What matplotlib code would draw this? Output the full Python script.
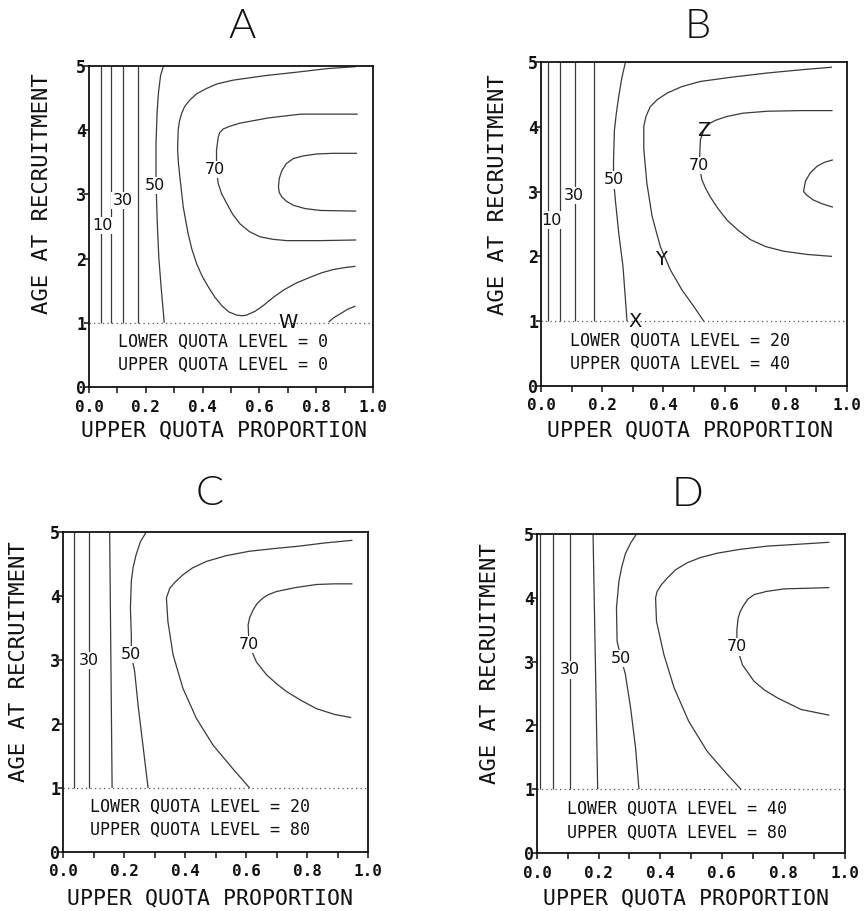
import matplotlib
matplotlib.use("Agg")
import matplotlib.pyplot as plt
from matplotlib.ticker import MultipleLocator, FixedLocator

# ---------------- data ----------------
panel_names = ["A", "B", "C", "D"]
lower_quota = [0, 20, 20, 40]
upper_quota = [0, 40, 80, 80]

x_major = [0.0, 0.2, 0.4, 0.6, 0.8, 1.0]
x_major_labels = ["0.0", "0.2", "0.4", "0.6", "0.8", "1.0"]
y_major = [0, 1, 2, 3, 4, 5]
y_major_labels = ["0", "1", "2", "3", "4", "5"]
min_recruit_age = 1.0

# Panel A isolines (upper quota proportion, age at recruitment)
a10_x = [0.042, 0.042]; a10_y = [1.0, 5.0]
a20_x = [0.077, 0.077]; a20_y = [1.0, 5.0]
a30_x = [0.120, 0.120]; a30_y = [1.0, 5.0]
a40_x = [0.173, 0.173]; a40_y = [1.0, 5.0]
a50_x = [0.262, 0.252, 0.245, 0.240, 0.236, 0.236, 0.240, 0.246, 0.255, 0.265]
a50_y = [5.00, 4.85, 4.60, 4.30, 3.80, 3.20, 2.60, 2.00, 1.50, 1.00]
a60_x = [0.940, 0.840, 0.744, 0.620, 0.508, 0.450, 0.414, 0.380, 0.355, 0.337, 0.326,
         0.318, 0.314, 0.312, 0.315, 0.320, 0.332, 0.349, 0.362, 0.379, 0.398, 0.420,
         0.443, 0.467, 0.492, 0.520, 0.538, 0.555, 0.585, 0.614, 0.650, 0.685, 0.730,
         0.779, 0.820, 0.861, 0.900, 0.938]
a60_y = [4.99, 4.96, 4.91, 4.85, 4.78, 4.72, 4.65, 4.57, 4.47, 4.37, 4.26,
         4.13, 4.00, 3.69, 3.48, 3.27, 2.80, 2.39, 2.15, 1.92, 1.73, 1.56,
         1.40, 1.27, 1.17, 1.12, 1.11, 1.12, 1.18, 1.27, 1.40, 1.51, 1.62,
         1.71, 1.78, 1.83, 1.86, 1.88]
a70_x = [0.946, 0.850, 0.744, 0.630, 0.532, 0.495, 0.473, 0.460, 0.455, 0.449, 0.449,
         0.455, 0.467, 0.485, 0.506, 0.532, 0.565, 0.602, 0.648, 0.696, 0.814, 0.941]
a70_y = [4.25, 4.25, 4.25, 4.19, 4.11, 4.06, 4.02, 3.96, 3.89, 3.69, 3.39,
         3.17, 3.01, 2.86, 2.69, 2.54, 2.42, 2.34, 2.30, 2.28, 2.28, 2.29]
a80_x = [0.944, 0.860, 0.802, 0.755, 0.720, 0.695, 0.679, 0.670, 0.667, 0.670, 0.679,
         0.696, 0.720, 0.760, 0.814, 0.941]
a80_y = [3.64, 3.64, 3.63, 3.60, 3.56, 3.48, 3.37, 3.25, 3.12, 3.03, 2.96,
         2.89, 2.83, 2.78, 2.75, 2.74]
a70b_x = [0.844, 0.862, 0.885, 0.910, 0.938]
a70b_y = [1.01, 1.08, 1.14, 1.21, 1.26]

# Panel B isolines
b10_x = [0.022, 0.022]; b10_y = [1.0, 5.0]
b20_x = [0.061, 0.061]; b20_y = [1.0, 5.0]
b30_x = [0.110, 0.110]; b30_y = [1.0, 5.0]
b40_x = [0.172, 0.172]; b40_y = [1.0, 5.0]
b50_x = [0.276, 0.264, 0.254, 0.246, 0.240, 0.237, 0.237, 0.243, 0.254, 0.268, 0.276, 0.281]
b50_y = [5.00, 4.75, 4.47, 4.20, 3.95, 3.49, 3.18, 2.87, 2.36, 1.84, 1.33, 1.00]
b60_x = [0.951, 0.850, 0.739, 0.630, 0.521, 0.460, 0.412, 0.380, 0.357, 0.343, 0.336,
         0.336, 0.346, 0.363, 0.390, 0.423, 0.461, 0.499, 0.532]
b60_y = [4.92, 4.88, 4.83, 4.77, 4.70, 4.62, 4.52, 4.42, 4.31, 4.16, 4.01,
         3.65, 3.13, 2.62, 2.15, 1.79, 1.48, 1.23, 1.00]
b70_x = [0.953, 0.850, 0.739, 0.660, 0.608, 0.570, 0.542, 0.532, 0.521, 0.517, 0.526,
         0.538, 0.553, 0.578, 0.608, 0.645, 0.684, 0.735, 0.793, 0.870, 0.951]
b70_y = [4.25, 4.25, 4.24, 4.21, 4.16, 4.10, 4.03, 3.95, 3.80, 3.40, 3.18,
         3.05, 2.92, 2.74, 2.56, 2.40, 2.26, 2.15, 2.08, 2.03, 2.00]
b80_x = [0.954, 0.925, 0.902, 0.880, 0.864, 0.858, 0.870, 0.890, 0.920, 0.954]
b80_y = [3.49, 3.45, 3.39, 3.29, 3.16, 3.00, 2.94, 2.87, 2.81, 2.76]

# Panel C isolines
c20_x = [0.035, 0.035]; c20_y = [1.0, 5.0]
c30_x = [0.085, 0.085]; c30_y = [1.0, 5.0]
c40_x = [0.161, 0.153]; c40_y = [1.0, 5.0]
c50_x = [0.273, 0.254, 0.240, 0.230, 0.224, 0.221, 0.224, 0.224, 0.235, 0.246, 0.262, 0.279]
c50_y = [5.00, 4.85, 4.65, 4.45, 4.23, 3.81, 3.39, 3.08, 2.82, 2.30, 1.67, 1.00]
c60_x = [0.949, 0.860, 0.776, 0.690, 0.612, 0.535, 0.470, 0.425, 0.393, 0.368, 0.350,
         0.339, 0.344, 0.361, 0.393, 0.437, 0.492, 0.557, 0.612]
c60_y = [4.87, 4.83, 4.78, 4.74, 4.70, 4.63, 4.54, 4.44, 4.33, 4.22, 4.12,
         3.97, 3.60, 3.08, 2.56, 2.09, 1.67, 1.30, 1.00]
c70_x = [0.949, 0.890, 0.831, 0.760, 0.700, 0.673, 0.656, 0.636, 0.623, 0.612, 0.607,
         0.610, 0.634, 0.667, 0.700, 0.732, 0.780, 0.831, 0.890, 0.945]
c70_y = [4.19, 4.19, 4.18, 4.13, 4.07, 4.02, 3.97, 3.88, 3.78, 3.66, 3.55,
         3.24, 2.97, 2.77, 2.63, 2.51, 2.37, 2.24, 2.15, 2.10]

# Panel D isolines
d10_x = [0.010, 0.010]; d10_y = [1.0, 5.0]
d20_x = [0.052, 0.052]; d20_y = [1.0, 5.0]
d30_x = [0.107, 0.107]; d30_y = [1.0, 5.0]
d40_x = [0.197, 0.182]; d40_y = [1.0, 5.0]
d50_x = [0.323, 0.303, 0.287, 0.275, 0.266, 0.258, 0.260, 0.273, 0.287, 0.304, 0.320, 0.331]
d50_y = [5.00, 4.85, 4.69, 4.48, 4.26, 3.84, 3.32, 3.05, 2.80, 2.27, 1.65, 1.00]
d60_x = [0.949, 0.850, 0.748, 0.660, 0.586, 0.530, 0.488, 0.450, 0.423, 0.403, 0.390,
         0.385, 0.388, 0.412, 0.445, 0.493, 0.553, 0.618, 0.662]
d60_y = [4.87, 4.84, 4.81, 4.76, 4.70, 4.63, 4.55, 4.44, 4.31, 4.20, 4.10,
         4.00, 3.63, 3.11, 2.59, 2.06, 1.59, 1.23, 1.00]
d70_x = [0.949, 0.880, 0.803, 0.745, 0.705, 0.685, 0.672, 0.660, 0.653, 0.649, 0.649,
         0.667, 0.705, 0.740, 0.781, 0.857, 0.949]
d70_y = [4.16, 4.15, 4.14, 4.10, 4.05, 3.98, 3.89, 3.79, 3.68, 3.50, 3.23,
         2.95, 2.69, 2.55, 2.43, 2.25, 2.16]

# Contour value labels: (text, x, y)
a_labels = [("10", 0.046, 2.51), ("30", 0.118, 2.91), ("50", 0.232, 3.14), ("70", 0.444, 3.39)]
b_labels = [("10", 0.033, 2.56), ("30", 0.107, 2.94), ("50", 0.237, 3.18), ("70", 0.517, 3.40)]
c_labels = [("30", 0.085, 2.99), ("50", 0.224, 3.08), ("70", 0.610, 3.24)]
d_labels = [("30", 0.108, 2.87), ("50", 0.273, 3.05), ("70", 0.649, 3.23)]

# Marked points: (letter, x, y)
a_points = [("W", 0.700, 1.01)]
b_points = [("X", 0.306, 0.99), ("Y", 0.392, 1.95), ("Z", 0.532, 3.94)]
c_points = []
d_points = []

# ---------------- layout ----------------
FIG_W, FIG_H = 868, 911
MONO = ["DejaVu Sans Mono"]
SANS = ["DejaVu Sans"]
LINE_COLOR = "#3a3a3a"


def fx(px):
    return px / FIG_W


def fy(py):
    return 1.0 - py / FIG_H


# axes boxes in pixels: left, top, right, bottom
boxes = [(89, 66, 373, 387), (541, 62, 847, 386), (63, 532, 368, 852), (537, 534, 845, 853)]
title_pos = [(242, 26), (698, 26), (210, 493), (687, 494)]
ylabel_pos = [(42, 194), (498, 195), (19, 662), (490, 664)]
xlabel_pos = [(224, 430), (690, 430), (210, 898), (686, 898)]
quota_x = [0.102, 0.095, 0.089, 0.097]
quota_y = [(0.70, 0.34), (0.69, 0.34), (0.70, 0.34), (0.69, 0.31)]

lines_by_panel = [
    [(a10_x, a10_y), (a20_x, a20_y), (a30_x, a30_y), (a40_x, a40_y), (a50_x, a50_y),
     (a60_x, a60_y), (a70_x, a70_y), (a80_x, a80_y), (a70b_x, a70b_y)],
    [(b10_x, b10_y), (b20_x, b20_y), (b30_x, b30_y), (b40_x, b40_y), (b50_x, b50_y),
     (b60_x, b60_y), (b70_x, b70_y), (b80_x, b80_y)],
    [(c20_x, c20_y), (c30_x, c30_y), (c40_x, c40_y), (c50_x, c50_y),
     (c60_x, c60_y), (c70_x, c70_y)],
    [(d10_x, d10_y), (d20_x, d20_y), (d30_x, d30_y), (d40_x, d40_y), (d50_x, d50_y),
     (d60_x, d60_y), (d70_x, d70_y)],
]
labels_by_panel = [a_labels, b_labels, c_labels, d_labels]
points_by_panel = [a_points, b_points, c_points, d_points]

fig = plt.figure(figsize=(FIG_W / 100, FIG_H / 100), dpi=100)
fig.patch.set_facecolor("white")

for i, name in enumerate(panel_names):
    l, t, r, b = boxes[i]
    ax = fig.add_axes([fx(l), fy(b), (r - l) / FIG_W, (b - t) / FIG_H])
    ax.set_xlim(0, 1)
    ax.set_ylim(0, 5)

    for xs, ys in lines_by_panel[i]:
        ax.plot(xs, ys, color=LINE_COLOR, lw=0.9, solid_joinstyle="round",
                solid_capstyle="butt", zorder=2)

    ax.axhline(min_recruit_age, color="#555555", lw=0.9, ls=(0, (1.0, 2.6)), zorder=2)

    for txt, x, y in labels_by_panel[i]:
        ax.text(x, y, txt, family=SANS, fontsize=11.5, ha="center", va="center",
                color="#111111", zorder=4,
                bbox=dict(facecolor="white", edgecolor="none", pad=0.8))
    for txt, x, y in points_by_panel[i]:
        ax.text(x, y, txt, family=SANS, fontsize=14, ha="center", va="center",
                color="#111111", zorder=4)

    ax.text(quota_x[i], quota_y[i][0], f"LOWER QUOTA LEVEL = {lower_quota[i]}",
            family=MONO, fontsize=12, ha="left", va="center", color="#111111")
    ax.text(quota_x[i], quota_y[i][1], f"UPPER QUOTA LEVEL = {upper_quota[i]}",
            family=MONO, fontsize=12, ha="left", va="center", color="#111111")

    for sp in ax.spines.values():
        sp.set_linewidth(1.3)
        sp.set_color("#111111")
        sp.set_zorder(6)

    ax.xaxis.set_major_locator(FixedLocator(x_major))
    ax.set_xticklabels(x_major_labels, family=MONO, fontsize=11.5, fontweight="bold")
    ax.xaxis.set_minor_locator(MultipleLocator(0.1))
    ax.yaxis.set_major_locator(FixedLocator(y_major))
    ax.set_yticklabels(y_major_labels, family=MONO, fontsize=12, fontweight="bold")
    ax.tick_params(axis="x", which="both", direction="out", length=4.5, width=1.1,
                   pad=4.5, colors="#111111")
    ax.tick_params(axis="y", which="major", direction="out", length=3.5, width=1.1,
                   pad=-1.5, colors="#111111")

    fig.text(fx(title_pos[i][0]), fy(title_pos[i][1]), name, family=["Lato", "DejaVu Sans"],
             fontweight=300, fontsize=30, ha="center", va="center", color="#111111")
    fig.text(fx(ylabel_pos[i][0]), fy(ylabel_pos[i][1]), "AGE AT RECRUITMENT", family=MONO,
             fontsize=16, rotation=90, ha="center", va="center", color="#111111")
    fig.text(fx(xlabel_pos[i][0]), fy(xlabel_pos[i][1]), "UPPER QUOTA PROPORTION", family=MONO,
             fontsize=15.5, ha="center", va="center", color="#111111")

fig.savefig("out.png", dpi=100, facecolor="white")
